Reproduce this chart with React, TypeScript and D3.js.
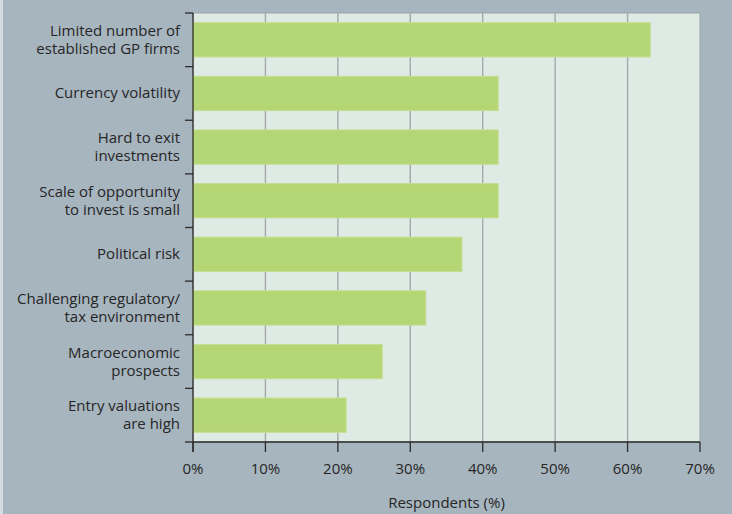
import React from "react";
import * as d3 from "d3";

const categories: string[][] = [
  ["Limited number of", "established GP firms"],
  ["Currency volatility"],
  ["Hard to exit", "investments"],
  ["Scale of opportunity", "to invest is small"],
  ["Political risk"],
  ["Challenging regulatory/", "tax environment"],
  ["Macroeconomic", "prospects"],
  ["Entry valuations", "are high"],
];
const values: number[] = [63, 42, 42, 42, 37, 32, 26, 21];
const xTicks: number[] = [0, 10, 20, 30, 40, 50, 60, 70];
const xTitle = "Respondents (%)";

const W = 732;
const H = 514;
const M = { left: 193, right: 32, top: 13, bottom: 72 };
const FONT = "'Open Sans', sans-serif";

export default function App() {
  const x = d3.scaleLinear().domain([0, 70]).range([M.left, W - M.right]);
  const ids = categories.map((_, i) => String(i));
  const y = d3
    .scaleBand<string>()
    .domain(ids)
    .range([M.top, H - M.bottom])
    .paddingInner(0.36)
    .paddingOuter(0.18);
  const bandH = y.step();
  const bandTop = (i: number) => M.top + i * bandH;
  const x0 = x(0);
  const yBottom = H - M.bottom;

  return (
    <svg width={W} height={H} style={{ display: "block" }}>
      <style>{`body{margin:0}`}</style>
      <rect x={0} y={0} width={W} height={H} fill="#a7b5bf" />
      <rect x={0} y={0} width={3} height={H} fill="#d3dce1" />
      <rect
        x={x0}
        y={M.top}
        width={x(70) - x0}
        height={yBottom - M.top}
        fill="#deebe5"
        stroke="#9aa3a8"
        strokeWidth={1}
      />
      {xTicks.slice(1, -1).map((t) => (
        <line key={t} x1={x(t)} x2={x(t)} y1={M.top} y2={yBottom} stroke="#a4a8ab" strokeWidth={1.4} />
      ))}
      {values.map((v, i) => (
        <rect
          key={i}
          x={x0}
          y={bandTop(i) + bandH * 0.18}
          width={x(v) - x0 + 1}
          height={bandH * 0.64}
          fill="#b5d674"
          stroke="#c4df92"
          strokeWidth={1}
        />
      ))}
      {/* left axis */}
      <line x1={x0} x2={x0} y1={M.top} y2={yBottom + 10} stroke="#2b2b2b" strokeWidth={1.3} />
      {d3.range(categories.length + 1).map((i) => (
        <line
          key={i}
          x1={x0 - 8}
          x2={x0}
          y1={bandTop(i)}
          y2={bandTop(i)}
          stroke="#2b2b2b"
          strokeWidth={1.3}
        />
      ))}
      {/* bottom axis */}
      <line x1={x0} x2={x(70)} y1={yBottom} y2={yBottom} stroke="#2b2b2b" strokeWidth={1.3} />
      {xTicks.map((t) => (
        <g key={t}>
          <line x1={x(t)} x2={x(t)} y1={yBottom} y2={yBottom + 10} stroke="#2b2b2b" strokeWidth={1.3} />
          <text
            x={x(t)}
            y={yBottom + 32}
            textAnchor="middle"
            fontFamily={FONT}
            fontSize={15}
            fill="#262626"
          >
            {t}%
          </text>
        </g>
      ))}
      {categories.map((lines, i) => {
        const cy = bandTop(i) + bandH / 2;
        const lh = 18;
        const start = cy - ((lines.length - 1) * lh) / 2 + 5;
        return lines.map((l, j) => (
          <text
            key={`${i}-${j}`}
            x={180}
            y={start + j * lh}
            textAnchor="end"
            fontFamily={FONT}
            fontSize={15}
            fill="#262626"
          >
            {l}
          </text>
        ));
      })}
      <text
        x={(x0 + x(70)) / 2}
        y={H - 6}
        textAnchor="middle"
        fontFamily={FONT}
        fontSize={15}
        fill="#262626"
      >
        {xTitle}
      </text>
    </svg>
  );
}
